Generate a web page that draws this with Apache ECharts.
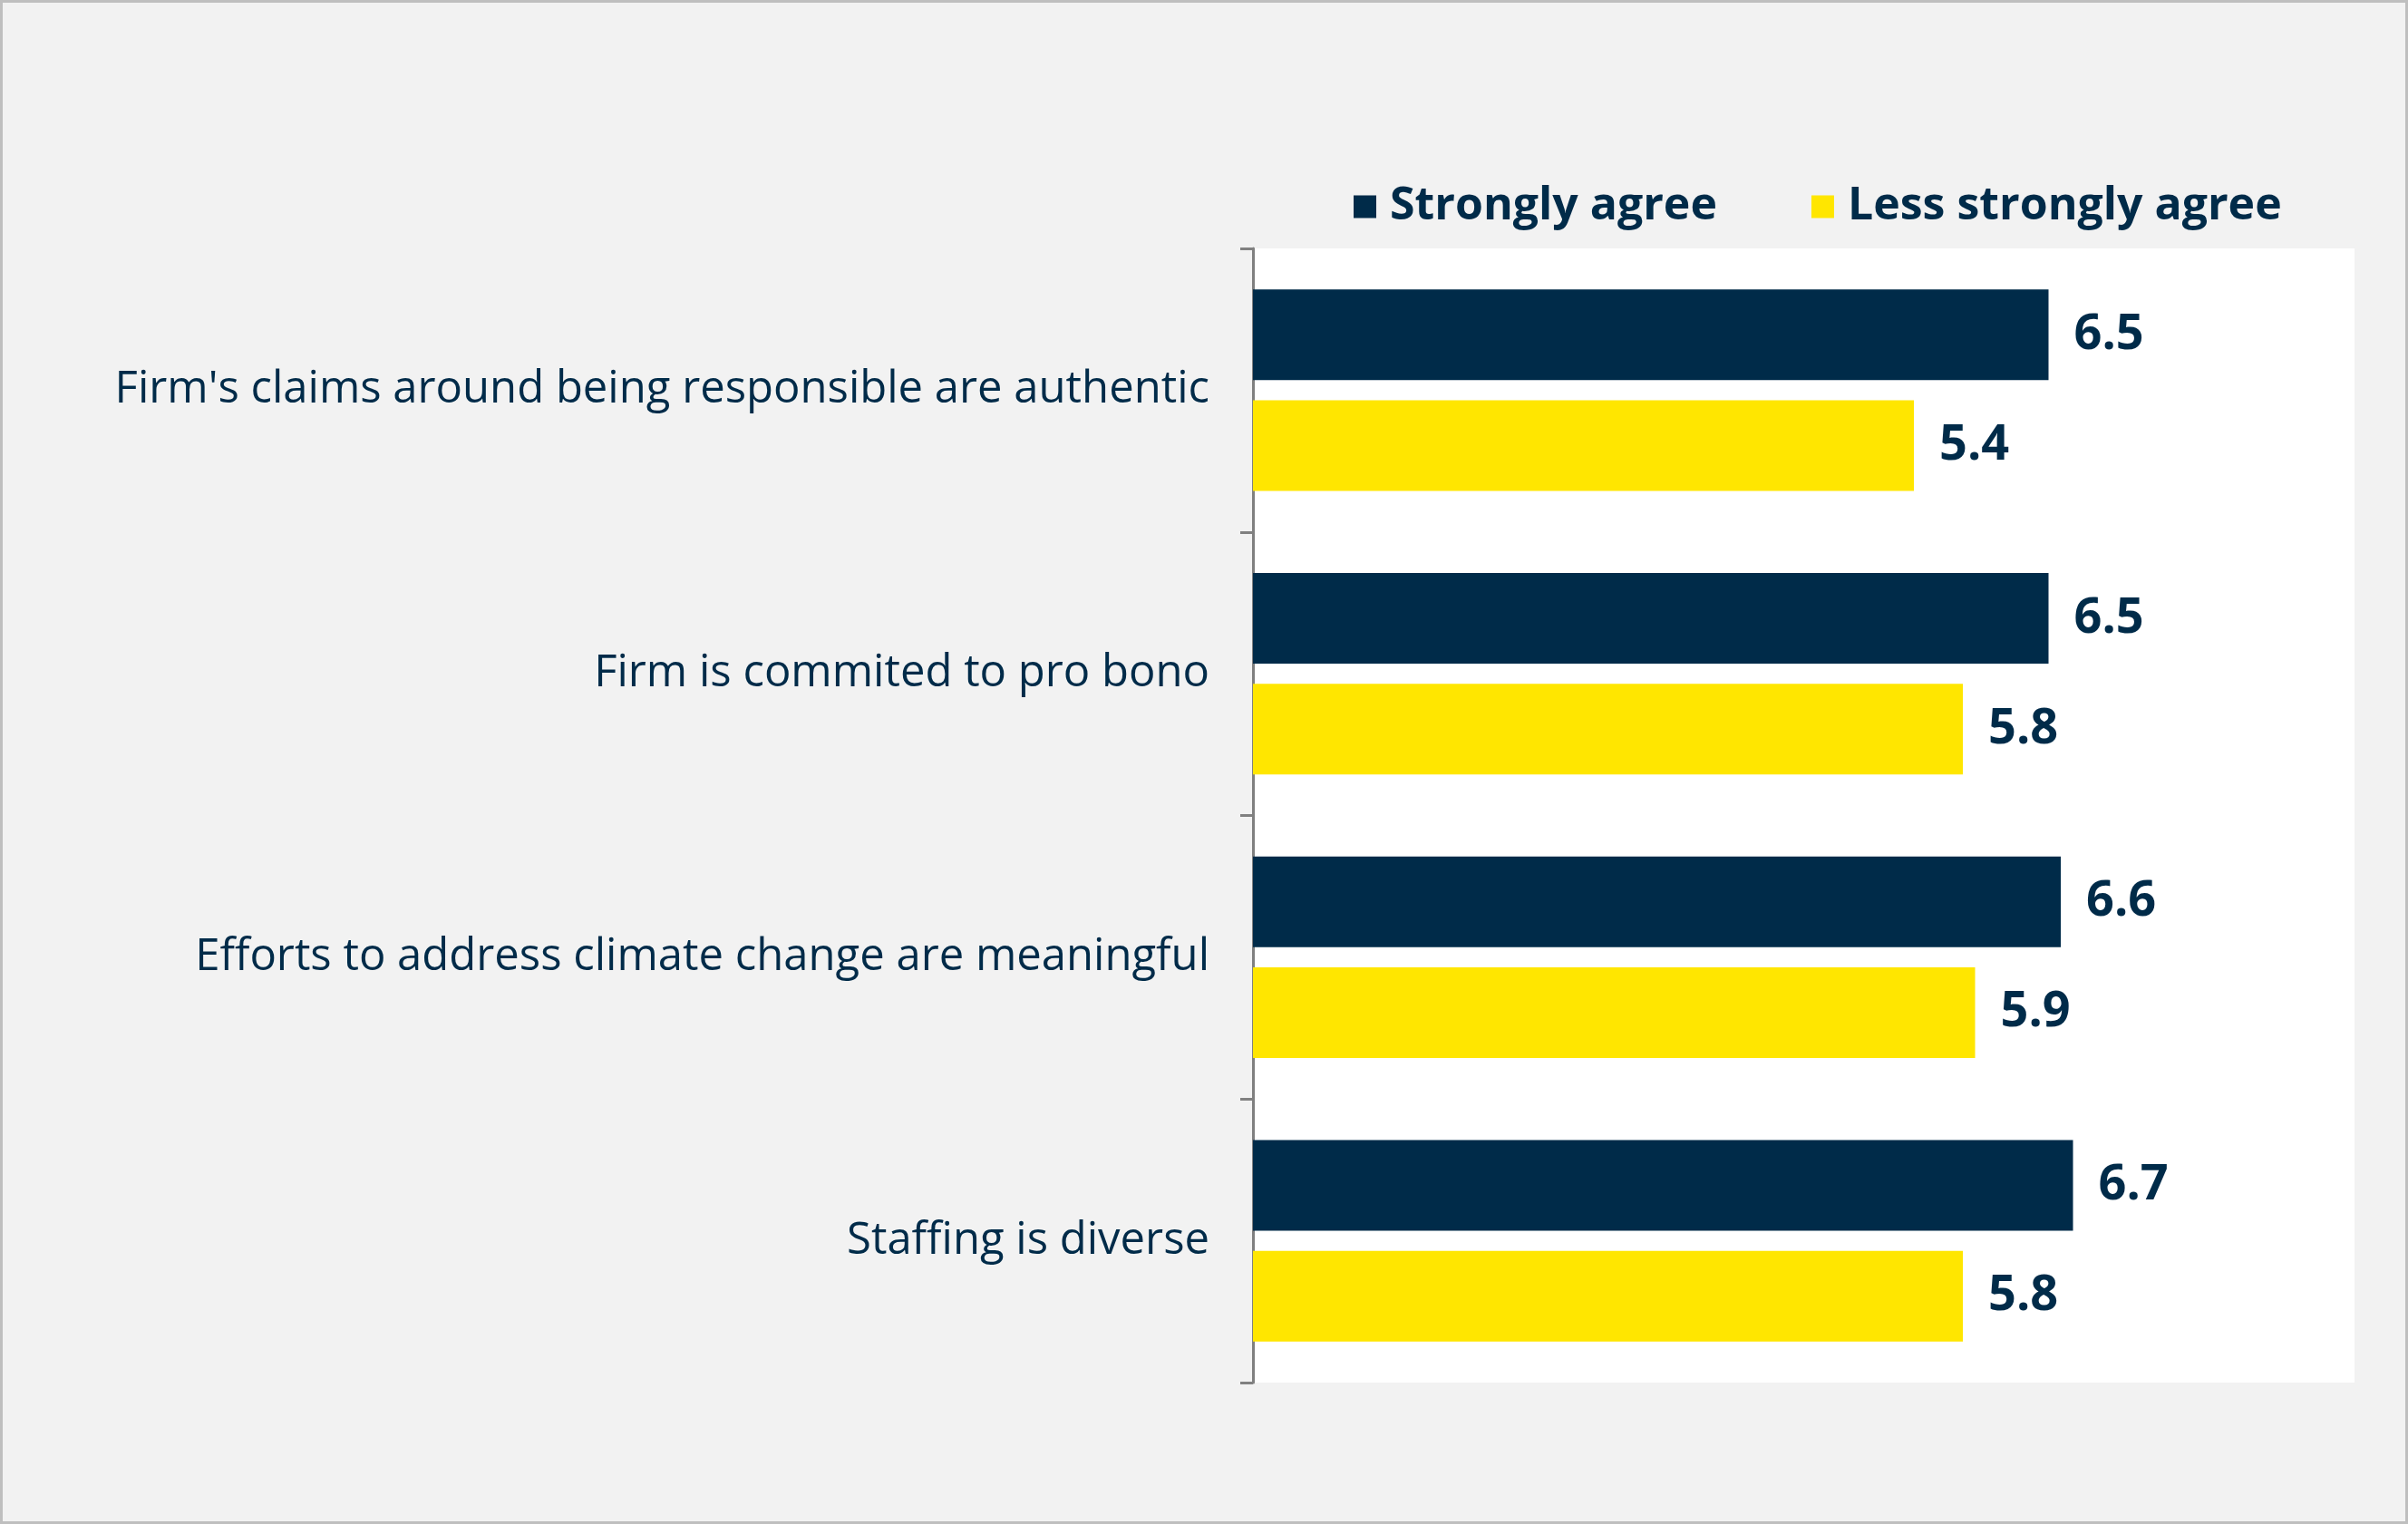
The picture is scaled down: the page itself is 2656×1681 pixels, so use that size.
<!DOCTYPE html>
<html><head><meta charset="utf-8">
<script src="https://cdn.jsdelivr.net/npm/echarts@6/dist/echarts.min.js"></script>
<style>html,body{margin:0;padding:0;background:#F2F2F2}#c{width:2656px;height:1681px}</style>
</head><body><div id="c"></div>
<script>
const categories = ["Firm's claims around being responsible are authentic", "Firm is commited to pro bono", "Efforts to address climate change are meaningful", "Staffing is diverse"];
const seriesNames = ["Strongly agree", "Less strongly agree"];
const stronglyAgree = [6.5, 6.5, 6.6, 6.7];
const lessStronglyAgree = [5.4, 5.8, 5.9, 5.8];

const navy = '#002B49', yellow = '#FFE600';
const chart = echarts.init(document.getElementById('c'));
const labelCfg = {show: true, position: 'right', distance: 28, color: navy, fontFamily: 'Open Sans', fontWeight: 'bold', fontSize: 54, formatter: p => p.value.toFixed(1)};
chart.setOption({
  backgroundColor: '#F2F2F2',
  animation: false,
  graphic: [{type: 'rect', shape: {x: 1.5, y: 1.5, width: 2653, height: 1678}, style: {fill: 'none', stroke: '#BFBFBF', lineWidth: 3}, z: 100}],
  legend: {
    left: 1488, top: 198, itemWidth: 25, itemHeight: 25, itemGap: 104,
    icon: 'rect',
    textStyle: {color: navy, fontFamily: 'Open Sans', fontWeight: 'bold', fontSize: 50, padding: [0, 0, 0, 10]},
    data: seriesNames
  },
  grid: {left: 1382, right: 59, top: 274, bottom: 156, show: true, backgroundColor: '#FFFFFF', borderWidth: 0},
  xAxis: {type: 'value', min: 0, max: 9, show: false, splitLine: {show: false}},
  yAxis: {
    type: 'category', data: categories, inverse: true,
    axisLine: {show: true, lineStyle: {color: '#808080', width: 3}},
    axisTick: {show: true, length: 14, lineStyle: {color: '#808080', width: 3}},
    axisLabel: {color: navy, fontFamily: 'Open Sans', fontSize: 49, margin: 48}
  },
  series: [
    {name: seriesNames[0], type: 'bar', data: stronglyAgree, itemStyle: {color: navy}, barCategoryGap: '29%', barGap: '22%', label: labelCfg},
    {name: seriesNames[1], type: 'bar', data: lessStronglyAgree, itemStyle: {color: yellow}, label: labelCfg}
  ]
});
</script></body></html>
